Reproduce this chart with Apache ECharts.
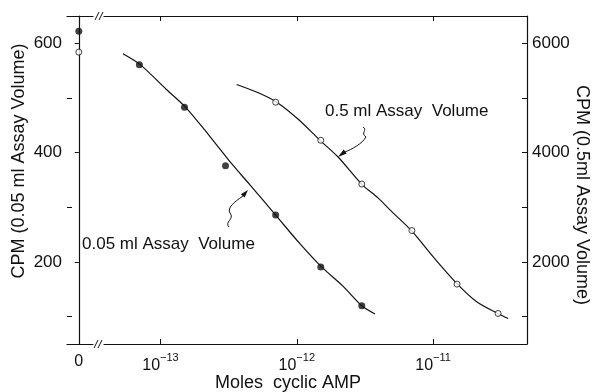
<!DOCTYPE html>
<html>
<head>
<meta charset="utf-8">
<script src="https://cdn.jsdelivr.net/npm/echarts@6/dist/echarts.min.js"></script>
<style>
  html, body { margin: 0; background: #fff; }
  #chart { width: 592px; height: 392px; }
</style>
</head>
<body>
<div id="chart"></div>
<script>
// zero-dose points (plotted left of the axis break)
const zeroSmall = 622;   // 0.05 ml, left axis
const zeroLarge = 5840;  // 0.5 ml, right axis

// measured points
const molesSmall = [7e-14, 1.5e-13, 3e-13, 7e-13, 1.5e-12, 3e-12];
const cpmSmall = [561, 483, 376, 286, 191, 120];
const molesLarge = [7e-13, 1.5e-12, 3e-12, 7e-12, 1.5e-11, 3e-11];
const cpmLarge = [4923, 4226, 3426, 2575, 1595, 1059];

// fitted curves
const curveSmallMoles = [5.3e-14, 7.1e-14, 1.1e-13, 1.53e-13, 2.3e-13, 3.4e-13, 4.5e-13, 7.1e-13, 1.05e-12, 1.52e-12, 2.2e-12, 3.0e-12, 3.75e-12];
const curveSmallCpm = [581, 561, 516, 483, 430, 377, 342, 284, 234, 191, 155, 120, 105];
const curveLargeMoles = [3.62e-13, 5.22e-13, 7.13e-13, 1.03e-12, 1.48e-12, 2.01e-12, 2.99e-12, 3.96e-12, 4.83e-12, 6.97e-12, 1.0e-11, 1.49e-11, 2.09e-11, 2.98e-11, 3.56e-11];
const curveLargeCpm = [5248, 5095, 4923, 4606, 4226, 3921, 3426, 3169, 2954, 2569, 2097, 1609, 1272, 1059, 967];

// ticks / labels
const decadeTicks = [1e-13, 1e-12, 1e-11];
const leftLabels = [200, 400, 600];
const leftMinor = [100, 300, 500];
const rightTicks = [1000, 2000, 3000, 4000, 5000, 6000];
const rightLabels = [2000, 4000, 6000];

const FONT = 'Liberation Sans, Arial, sans-serif';
const INK = '#111';

const pairs = (xs, ys) => xs.map((x, i) => [x, ys[i]]);

const chart = echarts.init(document.getElementById('chart'));

const noSplit = { show: false };
const thin = { stroke: INK, lineWidth: 1, fill: null };

const option = {
  animation: false,
  backgroundColor: '#fff',
  grid: [
    { left: 67, width: 26, top: 16, bottom: 48 },
    { left: 104, right: 65, top: 16, bottom: 48 }
  ],
  xAxis: [
    {
      gridIndex: 0, type: 'value', position: 'bottom', min: -1, max: 1.2,
      axisLine: { lineStyle: { color: INK, width: 1.2 } },
      axisTick: { inside: true, length: 5, customValues: [0], lineStyle: { color: INK } },
      axisLabel: { customValues: [0], formatter: () => '0', color: INK, fontFamily: FONT, fontSize: 16, margin: 10 },
      splitLine: noSplit
    },
    {
      gridIndex: 1, type: 'log', position: 'bottom', min: 3.85e-14, max: 4.89e-11,
      axisLine: { lineStyle: { color: INK, width: 1.2 } },
      axisTick: { inside: true, length: 5, customValues: decadeTicks, lineStyle: { color: INK } },
      axisLabel: {
        customValues: decadeTicks,
        margin: 8,
        formatter: (v) => {
          const e = Math.round(Math.log10(v));
          return '{b|10}{s|' + (e < 0 ? '\u2212' : '') + Math.abs(e) + '}';
        },
        rich: {
          b: { fontFamily: FONT, fontSize: 16, color: INK, lineHeight: 22, verticalAlign: 'bottom' },
          s: { fontFamily: FONT, fontSize: 11, color: INK, lineHeight: 12, verticalAlign: 'top' }
        }
      },
      splitLine: noSplit
    },
    {
      gridIndex: 0, type: 'value', position: 'top', min: -1, max: 1.2,
      axisLine: { lineStyle: { color: INK, width: 1.2 } },
      axisTick: { inside: true, length: 5, customValues: [0], lineStyle: { color: INK } },
      axisLabel: { show: false },
      splitLine: noSplit
    },
    {
      gridIndex: 1, type: 'log', position: 'top', min: 3.85e-14, max: 4.89e-11,
      axisLine: { lineStyle: { color: INK, width: 1.2 } },
      axisTick: { inside: true, length: 5, customValues: decadeTicks, lineStyle: { color: INK } },
      axisLabel: { show: false },
      splitLine: noSplit
    }
  ],
  yAxis: [
    {
      gridIndex: 0, type: 'value', position: 'left', min: 50, max: 650,
      axisLine: { show: true, lineStyle: { color: INK, width: 1.2 } },
      axisTick: { show: true, inside: false, length: 4, customValues: leftLabels, lineStyle: { color: INK } },
      axisLabel: { customValues: leftLabels, formatter: (v) => String(v), color: INK, fontFamily: FONT, fontSize: 17, margin: 5 },
      splitLine: noSplit
    },
    {
      gridIndex: 0, type: 'value', position: 'right', min: 500, max: 6500, show: false
    },
    {
      gridIndex: 1, type: 'value', position: 'left', min: 50, max: 650, offset: 37,
      axisLine: { show: false },
      axisTick: { show: true, inside: true, length: 5, customValues: leftMinor, lineStyle: { color: INK } },
      axisLabel: { show: false },
      splitLine: noSplit
    },
    {
      gridIndex: 1, type: 'value', position: 'right', min: 500, max: 6500,
      axisLine: { show: true, lineStyle: { color: INK, width: 1.2 } },
      axisTick: { show: true, inside: true, length: 5, customValues: rightTicks, lineStyle: { color: INK } },
      axisLabel: { customValues: rightLabels, formatter: (v) => String(v), color: INK, fontFamily: FONT, fontSize: 17, margin: 5 },
      splitLine: noSplit
    }
  ],
  series: [
    {
      name: '0.05 ml curve', type: 'line', xAxisIndex: 1, yAxisIndex: 2,
      data: pairs(curveSmallMoles, curveSmallCpm),
      smooth: 0.3, showSymbol: false, lineStyle: { color: INK, width: 1.2 }, z: 1
    },
    {
      name: '0.5 ml curve', type: 'line', xAxisIndex: 1, yAxisIndex: 3,
      data: pairs(curveLargeMoles, curveLargeCpm),
      smooth: 0.3, showSymbol: false, lineStyle: { color: INK, width: 1.2 }, z: 1
    },
    {
      name: '0.05 ml', type: 'scatter', xAxisIndex: 1, yAxisIndex: 2,
      data: pairs(molesSmall, cpmSmall),
      symbolSize: 7, itemStyle: { color: INK }, z: 3
    },
    {
      name: '0.5 ml', type: 'scatter', xAxisIndex: 1, yAxisIndex: 3,
      data: pairs(molesLarge, cpmLarge),
      symbolSize: 6, itemStyle: { color: '#fff', borderColor: INK, borderWidth: 1 }, z: 3
    },
    {
      name: '0.05 ml zero', type: 'scatter', xAxisIndex: 0, yAxisIndex: 0,
      data: [[0, zeroSmall]],
      symbolSize: 7, itemStyle: { color: INK }, z: 3
    },
    {
      name: '0.5 ml zero', type: 'scatter', xAxisIndex: 0, yAxisIndex: 1,
      data: [[0, zeroLarge]],
      symbolSize: 6, itemStyle: { color: '#fff', borderColor: INK, borderWidth: 1 }, z: 3
    }
  ],
  graphic: [
    // axis break marks
    { type: 'line', shape: { x1: 95, y1: 20, x2: 99, y2: 12 }, style: { stroke: INK, lineWidth: 1 } },
    { type: 'line', shape: { x1: 99, y1: 20, x2: 103, y2: 12 }, style: { stroke: INK, lineWidth: 1 } },
    { type: 'line', shape: { x1: 94, y1: 348, x2: 98, y2: 340 }, style: { stroke: INK, lineWidth: 1 } },
    { type: 'line', shape: { x1: 98, y1: 348, x2: 102, y2: 340 }, style: { stroke: INK, lineWidth: 1 } },
    // axis titles
    {
      type: 'text', x: 19, y: 161, rotation: Math.PI / 2,
      style: { text: 'CPM (0.05 ml Assay Volume)', fill: INK, font: '18px ' + FONT, align: 'center', verticalAlign: 'middle' }
    },
    {
      type: 'text', x: 582, y: 195, rotation: -Math.PI / 2,
      style: { text: 'CPM (0.5ml Assay Volume)', fill: INK, font: '18px ' + FONT, align: 'center', verticalAlign: 'middle' }
    },
    {
      type: 'text', x: 288, y: 383,
      style: { text: 'Moles  cyclic AMP', fill: INK, font: '18px ' + FONT, align: 'center', verticalAlign: 'middle' }
    },
    // curve annotations
    {
      type: 'text', x: 82, y: 244,
      style: { text: '0.05 ml Assay  Volume', fill: INK, font: '17px ' + FONT, align: 'left', verticalAlign: 'middle' }
    },
    {
      type: 'text', x: 325, y: 111,
      style: { text: '0.5 ml Assay  Volume', fill: INK, font: '17px ' + FONT, align: 'left', verticalAlign: 'middle' }
    },
    // curly arrows
    { type: 'bezierCurve', shape: { x1: 229, y1: 227, cpx1: 224, cpy1: 222, cpx2: 235, cpy2: 219, x2: 230, y2: 213 }, style: thin },
    { type: 'bezierCurve', shape: { x1: 230, y1: 213, cpx1: 227, cpy1: 208, cpx2: 234, cpy2: 202, x2: 243, y2: 196 }, style: thin },
    { type: 'polygon', shape: { points: [[248, 190], [244.6, 197.6], [240.8, 194.3]] }, style: { fill: INK } },
    { type: 'bezierCurve', shape: { x1: 363, y1: 127, cpx1: 368, cpy1: 130, cpx2: 360, cpy2: 133, x2: 366, y2: 137 }, style: thin },
    { type: 'bezierCurve', shape: { x1: 366, y1: 137, cpx1: 362, cpy1: 144, cpx2: 352, cpy2: 149, x2: 345, y2: 152 }, style: thin },
    { type: 'polygon', shape: { points: [[338, 157], [346.7, 153.6], [343.7, 149.6]] }, style: { fill: INK } }
  ]
};

chart.setOption(option);
</script>
</body>
</html>
